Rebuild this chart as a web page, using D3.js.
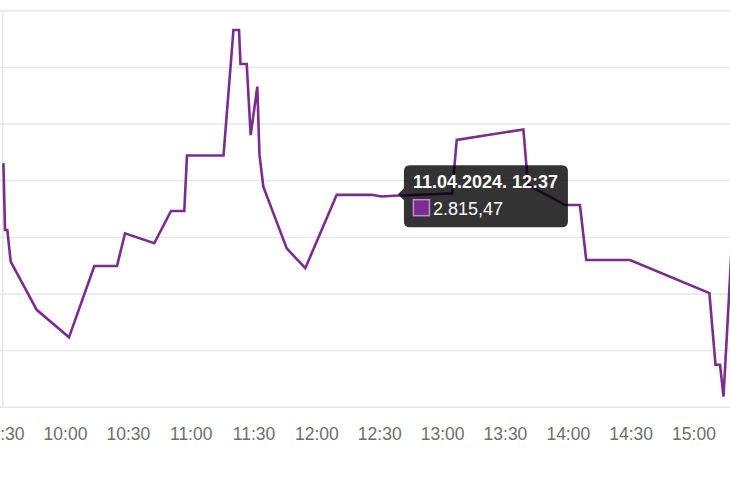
<!DOCTYPE html>
<html>
<head>
<meta charset="utf-8">
<script src="https://cdn.jsdelivr.net/npm/d3@7"></script>
<style>
  html, body { margin: 0; padding: 0; background: #fff; overflow: hidden; }
  svg { display: block; font-family: "Liberation Sans", Arial, sans-serif; }
</style>
</head>
<body>
<svg id="chart" width="730" height="487"></svg>
<script>
// ---- data ----
const times = [
  "09:30:36","09:31:22","09:32:28","09:34:05","09:46:30","10:01:54","10:14:00","10:24:50",
  "10:28:38","10:42:36","10:50:36","10:56:56","10:58:14","11:15:40","11:20:24","11:23:04",
  "11:23:46","11:26:44","11:28:38","11:31:48","11:32:50","11:34:40","11:45:50","11:54:42",
  "12:09:42","12:26:24","12:31:10","12:37:00","13:04:44","13:07:00","13:38:48","13:41:00",
  "13:58:42","14:05:48","14:08:48","14:29:42","15:07:36","15:10:30","15:12:40","15:14:20",
  "15:18:24"
];
const values = [
  2816.62,2814.26,2814.26,2813.14,2811.44,2810.47,2812.99,2812.99,
  2814.14,2813.79,2814.93,2814.93,2816.89,2816.89,2821.32,2821.32,
  2820.12,2820.12,2817.61,2819.32,2816.91,2815.79,2813.61,2812.91,
  2815.50,2815.50,2815.44,2815.47,2815.55,2817.44,2817.81,2815.85,
  2815.14,2815.14,2813.20,2813.20,2812.03,2809.50,2809.50,2808.38,
  2813.90
];
const xTickLabels = ["09:30","10:00","10:30","11:00","11:30","12:00","12:30","13:00","13:30","14:00","14:30","15:00"];
const tooltipTitle = "11.04.2024. 12:37";
const tooltipValue = "2.815,47";
const tooltipIndex = 27;

(function () {
  const parse = d3.timeParse("%H:%M:%S");
  const parseHM = d3.timeParse("%H:%M");
  const data = times.map((t, i) => ({ t: parse(t), v: values[i] }));

  const svg = d3.select("#chart");
  const areaLeft = 2.7, areaBottom = 407.3, areaTop = 10.7;

  const x = d3.scaleTime()
    .domain([parseHM("09:30"), parseHM("15:00")])
    .range([2.15, 693.5]);
  const y = d3.scaleLinear()
    .domain([2808, 2822])
    .range([areaBottom, areaTop]);

  // grid lines
  svg.append("g")
    .selectAll("line")
    .data(y.ticks(7))
    .join("line")
    .attr("x1", 0).attr("x2", 730)
    .attr("y1", d => y(d)).attr("y2", d => y(d))
    .attr("stroke", "#e6e6e6")
    .attr("stroke-width", 1.4);

  // left border
  svg.append("line")
    .attr("x1", areaLeft).attr("x2", areaLeft)
    .attr("y1", areaTop).attr("y2", areaBottom)
    .attr("stroke", "#e6e6e6")
    .attr("stroke-width", 1.4);

  // x axis
  const xAxis = d3.axisBottom(x)
    .tickValues(xTickLabels.map(parseHM))
    .tickFormat(d3.timeFormat("%H:%M"))
    .tickSize(0)
    .tickPadding(0);
  const gx = svg.append("g")
    .attr("transform", `translate(0,${areaBottom})`)
    .call(xAxis);
  gx.select(".domain").remove();
  gx.selectAll("text")
    .attr("dy", null)
    .attr("y", 33)
    .attr("fill", "#6e6e6e")
    .attr("font-size", "17.5px")
    .attr("font-family", "'Liberation Sans', Arial, sans-serif");

  // line
  const line = d3.line().x(d => x(d.t)).y(d => y(d.v));
  svg.append("path")
    .datum(data)
    .attr("d", line)
    .attr("fill", "none")
    .attr("stroke", "#7b2c90")
    .attr("stroke-width", 2.6)
    .attr("stroke-linejoin", "miter");

  // tooltip
  const p = data[tooltipIndex];
  const tipX = x(p.t) + 4, tipY = y(p.v) - 1.5;
  const bx = tipX + 6, by = tipY - 29, bw = 164, bh = 62, r = 6;
  const tipPath = `M${tipX},${tipY} L${bx},${tipY - 6} L${bx},${by + r} Q${bx},${by} ${bx + r},${by}
    L${bx + bw - r},${by} Q${bx + bw},${by} ${bx + bw},${by + r} L${bx + bw},${by + bh - r}
    Q${bx + bw},${by + bh} ${bx + bw - r},${by + bh} L${bx + r},${by + bh} Q${bx},${by + bh} ${bx},${by + bh - r}
    L${bx},${tipY + 6} Z`;
  const tg = svg.append("g");
  tg.append("path")
    .attr("d", tipPath)
    .attr("fill", "rgba(0,0,0,0.8)");
  tg.append("text")
    .attr("x", bx + 9).attr("y", by + 23)
    .attr("fill", "#fff")
    .attr("font-weight", "bold")
    .attr("font-size", "18px")
    .text(tooltipTitle);
  tg.append("rect")
    .attr("x", bx + 9.5).attr("y", by + 34.5)
    .attr("width", 16).attr("height", 16)
    .attr("fill", "#7b2c90")
    .attr("stroke", "#c18ad3")
    .attr("stroke-width", 1.5);
  tg.append("text")
    .attr("x", bx + 29).attr("y", by + 50)
    .attr("fill", "#fff")
    .attr("font-size", "18px")
    .text(tooltipValue);
})();
</script>
</body>
</html>
